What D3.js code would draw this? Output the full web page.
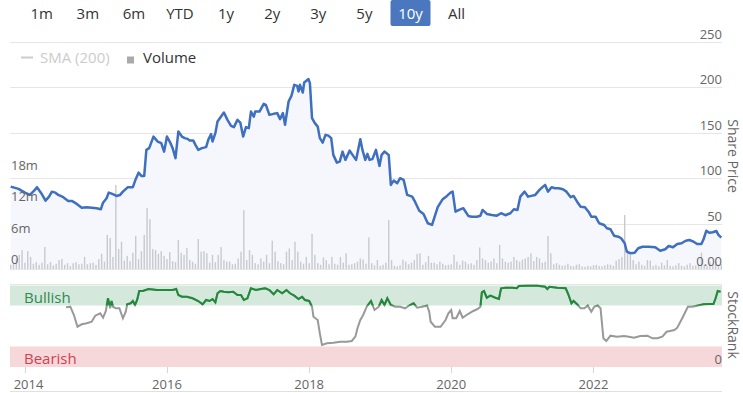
<!DOCTYPE html>
<html><head><meta charset="utf-8">
<script src="https://cdn.jsdelivr.net/npm/d3@7/dist/d3.min.js"></script>
<style>html,body{margin:0;padding:0;background:#fff;}svg{display:block;font-family:"Open Sans",sans-serif;}</style>
</head><body><svg id="c" width="743" height="393"></svg>
<script>
const rangeButtons = ["1m","3m","6m","YTD","1y","2y","3y","5y","10y","All"];
const selectedButton = "10y";
const priceTicks = [0,50,100,150,200,250];
const priceTickLabels = ["0.00","50","100","150","200","250"];
const volTicks = [0,6,12,18];
const volTickLabels = ["0","6m","12m","18m"];
const yearTicks = [2014,2016,2018,2020,2022];

const priceDates = [2013.80,2013.91,2014.00,2014.07,2014.13,2014.17,2014.23,2014.29,2014.34,2014.38,2014.43,2014.47,2014.54,2014.61,2014.66,2014.73,2014.80,2014.87,2014.94,2015.01,2015.07,2015.10,2015.15,2015.18,2015.23,2015.29,2015.34,2015.38,2015.45,2015.52,2015.56,2015.60,2015.64,2015.68,2015.71,2015.75,2015.81,2015.87,2015.92,2015.96,2016.00,2016.05,2016.08,2016.12,2016.16,2016.21,2016.25,2016.29,2016.32,2016.37,2016.40,2016.44,2016.49,2016.55,2016.58,2016.62,2016.64,2016.68,2016.71,2016.76,2016.80,2016.85,2016.90,2016.94,2016.99,2017.03,2017.07,2017.11,2017.15,2017.18,2017.22,2017.24,2017.30,2017.36,2017.39,2017.44,2017.50,2017.55,2017.59,2017.63,2017.66,2017.71,2017.75,2017.79,2017.83,2017.85,2017.87,2017.91,2017.93,2017.99,2018.01,2018.04,2018.08,2018.12,2018.15,2018.19,2018.23,2018.27,2018.31,2018.34,2018.39,2018.43,2018.47,2018.51,2018.57,2018.62,2018.66,2018.72,2018.75,2018.79,2018.82,2018.85,2018.89,2018.94,2018.99,2019.02,2019.06,2019.12,2019.15,2019.19,2019.24,2019.28,2019.33,2019.38,2019.45,2019.49,2019.55,2019.61,2019.67,2019.73,2019.77,2019.81,2019.88,2019.94,2019.99,2020.02,2020.06,2020.11,2020.17,2020.24,2020.29,2020.36,2020.41,2020.44,2020.50,2020.57,2020.64,2020.70,2020.76,2020.83,2020.88,2020.93,2020.97,2021.03,2021.08,2021.14,2021.18,2021.24,2021.29,2021.32,2021.36,2021.41,2021.46,2021.51,2021.57,2021.62,2021.68,2021.72,2021.77,2021.82,2021.88,2021.93,2021.97,2022.03,2022.08,2022.15,2022.19,2022.24,2022.29,2022.35,2022.39,2022.44,2022.47,2022.52,2022.58,2022.63,2022.69,2022.78,2022.87,2022.94,2023.01,2023.06,2023.12,2023.18,2023.24,2023.30,2023.35,2023.41,2023.46,2023.52,2023.55,2023.59,2023.63,2023.68,2023.73,2023.76,2023.80];
const priceValues = [90.5,88.0,83.9,81.4,86.1,89.9,83.3,75.1,79.5,85.0,83.9,81.4,78.9,74.8,74.8,71.5,67.4,67.9,67.4,66.8,65.7,72.9,77.8,83.9,82.5,80.3,81.4,85.0,89.9,89.9,98.7,105.9,102.3,102.3,130.9,132.8,145.5,140.0,138.3,129.0,145.5,138.3,132.8,121.8,151.0,145.5,143.8,143.0,141.1,141.1,136.4,130.9,132.8,133.9,141.9,148.2,140.0,149.3,162.0,167.5,171.9,163.9,157.3,155.9,163.9,160.9,145.5,155.9,154.8,173.0,167.5,173.0,173.0,181.5,180.4,169.4,170.5,171.3,164.7,171.3,158.4,184.0,190.3,202.4,201.3,195.0,202.4,194.0,205.0,208.7,204.3,165.8,160.3,156.5,143.8,138.9,147.4,146.6,143.8,125.4,116.9,118.0,129.0,119.9,130.1,124.3,119.9,142.7,130.9,119.9,126.5,119.9,120.7,130.9,113.3,125.4,129.0,125.4,92.4,97.1,94.3,99.8,97.9,81.4,79.5,74.0,64.1,60.5,50.3,48.4,58.3,67.9,76.7,80.3,83.9,85.0,63.0,64.9,66.8,58.3,57.5,57.5,58.6,64.9,60.5,59.4,58.6,61.3,59.1,61.3,65.7,64.9,79.5,85.0,79.5,80.6,81.4,86.9,90.5,92.4,85.0,89.9,88.8,88.8,87.7,85.0,78.9,80.3,74.0,68.5,67.9,63.0,57.5,57.5,50.3,48.4,44.8,43.7,36.6,35.5,33.8,28.3,19.0,17.3,17.9,22.8,24.5,24.5,23.9,20.1,21.7,25.3,23.9,27.5,28.3,31.1,31.9,30.0,27.5,27.5,32.7,42.1,39.9,40.4,41.8,37.4,34.4];

const volStart = 2013.80, volStep = 0.04;
const volumeValues = [
0.8,1.0,1.9,2.7,3.6,1.2,3.4,2.3,1.0,1.3,0.8,1.2,4.2,0.9,1.3,0.7,1.0,1.7,1.9,0.8,1.1,0.6,1.1,1.3,0.9,
1.0,2.3,0.9,1.1,1.2,0.8,1.9,2.9,1.4,6.5,5.9,2.3,16.0,3.8,5.2,1.6,2.5,1.5,3.1,6.3,1.9,3.4,6.5,11.6,9.5,
3.8,3.6,2.9,3.4,2.5,1.9,3.2,1.5,1.3,5.5,3.1,2.7,4.0,1.7,1.4,1.0,5.7,3.3,3.4,3.0,1.2,2.7,1.3,2.7,4.2,
1.7,1.4,1.4,0.9,1.0,2.0,3.3,11.2,1.7,3.6,2.7,1.1,0.9,2.0,1.4,2.7,1.1,5.4,3.3,1.5,1.1,0.9,3.3,3.9,1.7,
5.2,3.3,1.4,1.0,2.3,1.1,6.7,2.7,1.1,0.8,2.2,1.7,0.9,2.3,1.0,0.8,2.3,1.2,3.0,0.8,0.9,1.1,1.4,2.0,1.8,
1.0,6.0,1.1,0.7,1.7,0.6,0.8,1.2,9.3,1.7,0.6,0.5,0.7,1.8,1.4,0.9,1.2,1.7,2.9,3.0,0.8,1.3,2.5,1.2,1.2,
0.9,1.4,1.0,0.7,0.8,0.9,2.7,1.4,0.8,1.6,1.4,0.9,1.1,0.8,1.7,4.1,2.0,1.7,1.2,1.4,2.0,1.1,4.6,2.0,1.4,
1.2,1.4,2.3,1.7,1.4,1.8,2.0,2.3,3.0,1.5,2.3,2.0,1.2,1.4,6.3,3.0,0.9,1.1,0.8,0.6,0.7,1.0,0.6,0.5,0.8,
0.9,0.5,0.4,0.6,0.5,0.7,0.8,0.6,0.5,0.7,0.9,0.8,0.6,1.6,1.9,2.3,10.3,3.6,2.7,1.7,0.9,1.4,0.8,0.6,1.7,
1.6,0.6,0.8,0.5,1.2,0.7,1.7,0.6,0.5,0.7,1.1,0.6,0.5,0.8,1.1,0.6,0.7,0.9,3.1,0.8,0.6,1.4,0.7,1.4,0.8,0.9];

const rankDates = [2014.58,2014.64,2014.69,2014.74,2014.80,2014.87,2014.94,2014.99,2015.06,2015.10,2015.14,2015.17,2015.20,2015.22,2015.24,2015.28,2015.33,2015.38,2015.42,2015.44,2015.49,2015.52,2015.55,2015.58,2015.61,2015.66,2015.74,2015.86,2016.00,2016.08,2016.13,2016.16,2016.21,2016.28,2016.36,2016.44,2016.50,2016.55,2016.60,2016.64,2016.68,2016.71,2016.75,2016.80,2016.86,2016.93,2016.99,2017.04,2017.08,2017.13,2017.18,2017.25,2017.32,2017.38,2017.44,2017.50,2017.55,2017.62,2017.68,2017.73,2017.79,2017.85,2017.90,2017.94,2018.00,2018.04,2018.06,2018.12,2018.15,2018.18,2018.25,2018.34,2018.44,2018.53,2018.60,2018.65,2018.68,2018.72,2018.76,2018.81,2018.87,2018.92,2018.98,2019.02,2019.06,2019.10,2019.15,2019.21,2019.28,2019.35,2019.42,2019.47,2019.52,2019.59,2019.66,2019.69,2019.71,2019.77,2019.85,2019.92,2019.96,2020.00,2020.02,2020.07,2020.12,2020.16,2020.23,2020.31,2020.37,2020.41,2020.43,2020.46,2020.50,2020.55,2020.62,2020.67,2020.70,2020.76,2020.86,2020.92,2020.95,2021.07,2021.21,2021.32,2021.35,2021.38,2021.49,2021.61,2021.65,2021.69,2021.72,2021.77,2021.82,2021.87,2021.92,2021.97,2022.01,2022.06,2022.10,2022.14,2022.18,2022.24,2022.33,2022.43,2022.50,2022.57,2022.66,2022.76,2022.83,2022.90,2022.97,2023.03,2023.08,2023.14,2023.18,2023.25,2023.30,2023.33,2023.39,2023.46,2023.55,2023.62,2023.69,2023.72,2023.75,2023.79];
const rankValues = [72.8,73.5,63.4,49.1,52.1,53.3,55.2,62.6,65.5,60.1,68.3,83.8,71.6,80.5,73.5,71.6,71.6,59.4,67.4,76.5,77.7,80.5,75.6,81.7,92.7,92.7,95.1,93.9,93.9,93.9,95.1,87.8,85.7,85.7,83.8,80.5,76.5,81.7,80.5,82.9,78.9,89.9,92.7,91.8,91.1,91.8,87.8,87.8,81.7,83.8,96.0,93.9,95.1,96.0,93.9,88.7,93.9,89.9,93.9,89.9,87.0,82.9,85.7,81.7,80.5,73.5,61.3,57.3,41.1,26.8,28.9,29.6,30.9,30.9,31.7,37.0,47.2,57.3,63.4,73.5,80.5,69.5,73.5,81.7,75.6,83.8,75.6,73.5,73.5,71.6,75.6,77.7,72.3,73.5,74.8,67.4,55.2,49.1,49.1,57.3,65.5,69.5,59.4,59.4,68.3,60.1,64.3,68.3,70.7,73.5,91.1,92.7,84.5,87.0,84.5,82.9,96.0,96.7,96.7,96.0,98.8,99.1,99.1,97.9,95.1,97.9,96.7,96.0,87.8,77.7,80.5,76.5,71.6,71.6,74.8,67.4,73.5,74.8,71.6,35.0,31.7,38.2,37.0,37.8,37.0,35.7,37.8,38.2,35.0,35.0,37.0,43.0,43.9,45.1,47.9,59.4,68.3,73.5,73.5,74.8,76.5,76.8,76.8,83.8,92.7,91.8];
const bullishLevel = 75, bearishLevel = 25;

function yearToDate(y){const yr=Math.floor(y);const a=new Date(yr,0,1),b=new Date(yr+1,0,1);return new Date(+a+(y-yr)*(b-a));}

const svg = d3.select("#c");
const L = 10, R = 722;
const x = d3.scaleTime().domain([yearToDate(2013.79), yearToDate(2023.81)]).range([L, R]);
const yP = d3.scaleLinear().domain([0,250]).range([269,41.5]);
const yV = d3.scaleLinear().domain([0,18]).range([269,174.5]);
const yR = d3.scaleLinear().domain([0,100]).range([367,285]);

// range selector buttons
const bx = d3.scaleLinear().domain([0, rangeButtons.length-1]).range([41.7, 456.6]);
rangeButtons.forEach((b,i)=>{
  const cx = bx(i);
  if (b===selectedButton) svg.append("rect").attr("x",cx-20).attr("y",0).attr("width",40).attr("height",26).attr("rx",2).attr("fill","#4b77be");
  svg.append("text").attr("x",cx).attr("y",18.5).attr("text-anchor","middle").attr("font-size",15)
    .attr("fill", b===selectedButton? "#fff":"#333").text(b);
});

// legend
svg.append("line").attr("x1",21).attr("x2",33).attr("y1",57.5).attr("y2",57.5).attr("stroke","#ccc").attr("stroke-width",2);
svg.append("text").attr("x",40).attr("y",63).attr("font-size",15).attr("fill","#ccc").text("SMA (200)");
svg.append("rect").attr("x",127).attr("y",56.5).attr("width",7).attr("height",7).attr("fill","#aaa");
svg.append("text").attr("x",143).attr("y",63).attr("font-size",15).attr("fill","#333").text("Volume");

// gridlines
svg.append("g").selectAll("line").data(priceTicks).join("line")
  .attr("x1",L).attr("x2",R).attr("y1",d=>Math.round(yP(d))+0.5).attr("y2",d=>Math.round(yP(d))+0.5)
  .attr("stroke","#e6e6e6").attr("stroke-width",1);

// price area
const pts = priceDates.map((d,i)=>({t:yearToDate(d), v:priceValues[i]}));
svg.append("path").datum(pts).attr("fill","#f5f7fc")
  .attr("d", d3.area().x(d=>x(d.t)).y0(yP(0)).y1(d=>yP(d.v)));

// volume bars
const vol = volumeValues.map((v,i)=>({t:yearToDate(volStart+i*volStep), v}));
svg.append("g").selectAll("rect").data(vol).join("rect")
  .attr("x",d=>x(d.t)-0.7).attr("width",1.4)
  .attr("y",d=>yV(d.v)).attr("height",d=>yV(0)-yV(d.v)).attr("fill","#c9c9cf");

// price line
svg.append("path").datum(pts).attr("fill","none").attr("stroke","#3f6fbf").attr("stroke-width",2.5)
  .attr("stroke-linejoin","round").attr("d", d3.line().x(d=>x(d.t)).y(d=>yP(d.v)));

// price labels
svg.append("g").selectAll("text").data(priceTicks).join("text")
  .attr("x",R).attr("y",d=>yP(d)-3).attr("text-anchor","end").attr("font-size",13).attr("fill","#666")
  .text((d,i)=>priceTickLabels[i]);
// volume labels
svg.append("g").selectAll("text").data(volTicks).join("text")
  .attr("x",11).attr("y",d=>yV(d)-5).attr("font-size",13).attr("fill","#666")
  .text((d,i)=>volTickLabels[i]);

// axis titles
svg.append("text").attr("transform","translate(728,156) rotate(90)").attr("text-anchor","middle")
  .attr("font-size",14).attr("fill","#666").text("Share Price");
svg.append("text").attr("transform","translate(728,325) rotate(90)").attr("text-anchor","middle")
  .attr("font-size",14).attr("fill","#666").text("StockRank");

// stockrank panel
svg.append("line").attr("x1",L).attr("x2",R).attr("y1",284.5).attr("y2",284.5).attr("stroke","#e6e6e6");
svg.append("rect").attr("x",L).attr("width",R-L).attr("y",yR(100)+0.5).attr("height",yR(bullishLevel)-yR(100)-0.5).attr("fill","#d4e9dc");
svg.append("rect").attr("x",L).attr("width",R-L).attr("y",yR(bearishLevel)).attr("height",yR(0)-yR(bearishLevel)).attr("fill","#f6d8db");
svg.append("text").attr("x",24).attr("y",303).attr("font-size",15).attr("fill","#2f8a4f").text("Bullish");
svg.append("text").attr("x",24).attr("y",364).attr("font-size",15).attr("fill","#d23f4e").text("Bearish");
svg.append("text").attr("x",R).attr("y",363.5).attr("text-anchor","end").attr("font-size",13).attr("fill","#666").text("0");

const rpts = rankDates.map((d,i)=>({t:yearToDate(d), v:rankValues[i]}));
const rline = d3.line().x(d=>x(d.t)).y(d=>yR(d.v));
svg.append("defs").append("clipPath").attr("id","bull").append("rect")
  .attr("x",0).attr("y",0).attr("width",743).attr("height",yR(bullishLevel));
svg.append("path").datum(rpts).attr("fill","none").attr("stroke","#999").attr("stroke-width",2).attr("d",rline);
svg.append("path").datum(rpts).attr("fill","none").attr("stroke","#1e8a3a").attr("stroke-width",2).attr("clip-path","url(#bull)").attr("d",rline);

// x axis
const xt = yearTicks.map(yearToDate);
svg.append("g").selectAll("line").data(xt).join("line")
  .attr("x1",d=>Math.round(x(d))+0.5).attr("x2",d=>Math.round(x(d))+0.5).attr("y1",367).attr("y2",373).attr("stroke","#ccd6eb");
svg.append("g").selectAll("text").data(xt).join("text")
  .attr("x",d=>Math.max(x(d), 28.5)).attr("y",388.5).attr("text-anchor","middle").attr("font-size",13).attr("fill","#666")
  .text(d=>d3.timeFormat("%Y")(d));
svg.append("line").attr("x1",L).attr("x2",R).attr("y1",391.5).attr("y2",391.5).attr("stroke","#e0e0e0");
</script></body></html>
